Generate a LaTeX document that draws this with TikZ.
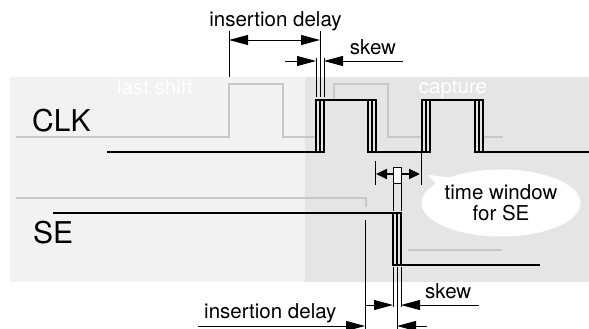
\documentclass[tikz,border=0pt]{standalone}
\usepackage{fontspec}
\setmainfont{TeX Gyre Heros}
\usetikzlibrary{arrows.meta,shapes.callouts}
\definecolor{lightbg}{HTML}{F2F2F2}
\definecolor{darkbg}{HTML}{E5E5E5}
\definecolor{ghostgray}{HTML}{C8C8C8}
\begin{document}
\begin{tikzpicture}[x=1pt,y=-1pt,
  lbl/.style={inner sep=0pt, font=\fontsize{20.5}{21}\selectfont},
  big/.style={inner sep=0pt, font=\fontsize{30}{32}\selectfont},
  ghost/.style={draw=ghostgray, line width=1.6pt},
  wave/.style={line width=2.2pt, line join=miter},
  hair/.style={line width=0.9pt},
  dimarrow/.style={hair, -{Triangle[length=19pt,width=10pt]}},
  twarrow/.style={line width=2pt, -{Triangle[length=11pt,width=10pt]}}]
\useasboundingbox (0,0) rectangle (589,329);
% backgrounds
\fill[lightbg] (10,77) rectangle (305,282);
\fill[darkbg] (305,77) rectangle (589,282);
% labels of phases
\node[lbl, text=white, anchor=base] (last) at (155,95) {last shift};
\node[lbl, text=white, anchor=base] (capt) at (453,93) {capture};
\node[big, anchor=base west] (clk) at (32,131) {CLK};
\node[big, anchor=base west] (se) at (33,243) {SE};
% ghost (last shift) waveforms
\draw[ghost] (16,137) -- (229,137) -- (229,84) -- (283,84) -- (283,137) -- (334,137) -- (334,84) -- (388,84) -- (388,137) -- (503,137);
\draw[ghost] (16,198) -- (366,198) -- (366,207);
\draw[ghost] (408,250) -- (502,250);
% cover inside of capture pulses
\fill[darkbg] (316,100) rectangle (376,152);
\fill[darkbg] (422,100) rectangle (483,152);
% CLK waveform (three skewed copies)
\foreach \d in {0,4,8}{
  \draw[wave] (107,152) -- (316+\d,152) -- (316+\d,100) -- (368+\d,100) -- (368+\d,152)
    -- (422+\d,152) -- (422+\d,100) -- (475+\d,100) -- (475+\d,152) -- (589,152);
  \draw[wave] (53,213) -- (393+\d,213) -- (393+\d,265) -- (540,265);
}
% top insertion delay / skew
\coordinate (a1) at (229,31);
\coordinate (a2) at (229,77);
\draw[hair] (a1) -- (a2);
\draw[hair] (320,31) -- (320,97);
\draw[hair] (316,58) -- (316,97);
\draw[hair] (324,58) -- (324,97);
\draw[dimarrow, {Triangle[length=19pt,width=10pt]}-{Triangle[length=19pt,width=10pt]}] (229,40) -- (320,40);
\node[lbl, anchor=base] (idtop) at (275.5,27) {insertion delay};
\draw[dimarrow] (285,61) -- (316,61);
\draw[dimarrow] (403,61) -- (324,61);
\node[lbl, anchor=base] (skewtop) at (373,55) {skew};
% time window
\draw[hair] (375,161) -- (375,185);
\draw[hair] (421,152) -- (421,185);
\draw[hair] (393,183) -- (393,211);
\draw[hair] (401,183) -- (401,211);
\draw[twarrow] (393,174) -- (376,174);
\draw[twarrow] (401,174) -- (420,174);
\node[draw, hair, fill=white, minimum width=8pt, minimum height=16pt, inner sep=0pt] (win) at (397,175) {};
\node[lbl, ellipse callout, fill=white, callout absolute pointer={(428,175)}, minimum width=136pt, minimum height=67pt, align=center] (tw) at (501,203) {time window\\for SE};
% bottom skew / insertion delay
\draw[hair] (365,220) -- (365,329);
\draw[hair] (393,267) -- (393,307);
\draw[hair] (401,267) -- (401,307);
\draw[hair] (397,267) -- (397,329);
\draw[dimarrow] (365,305) -- (393,305);
\draw[dimarrow] (479,305) -- (401,305);
\node[lbl, anchor=base west] (skewbot) at (425,298) {skew};
\draw[dimarrow] (198,326) -- (365,326);
\draw[dimarrow] (427,326) -- (397,326);
\node[lbl, anchor=base west] (idbot) at (204,318) {insertion delay};
\end{tikzpicture}
\end{document}
